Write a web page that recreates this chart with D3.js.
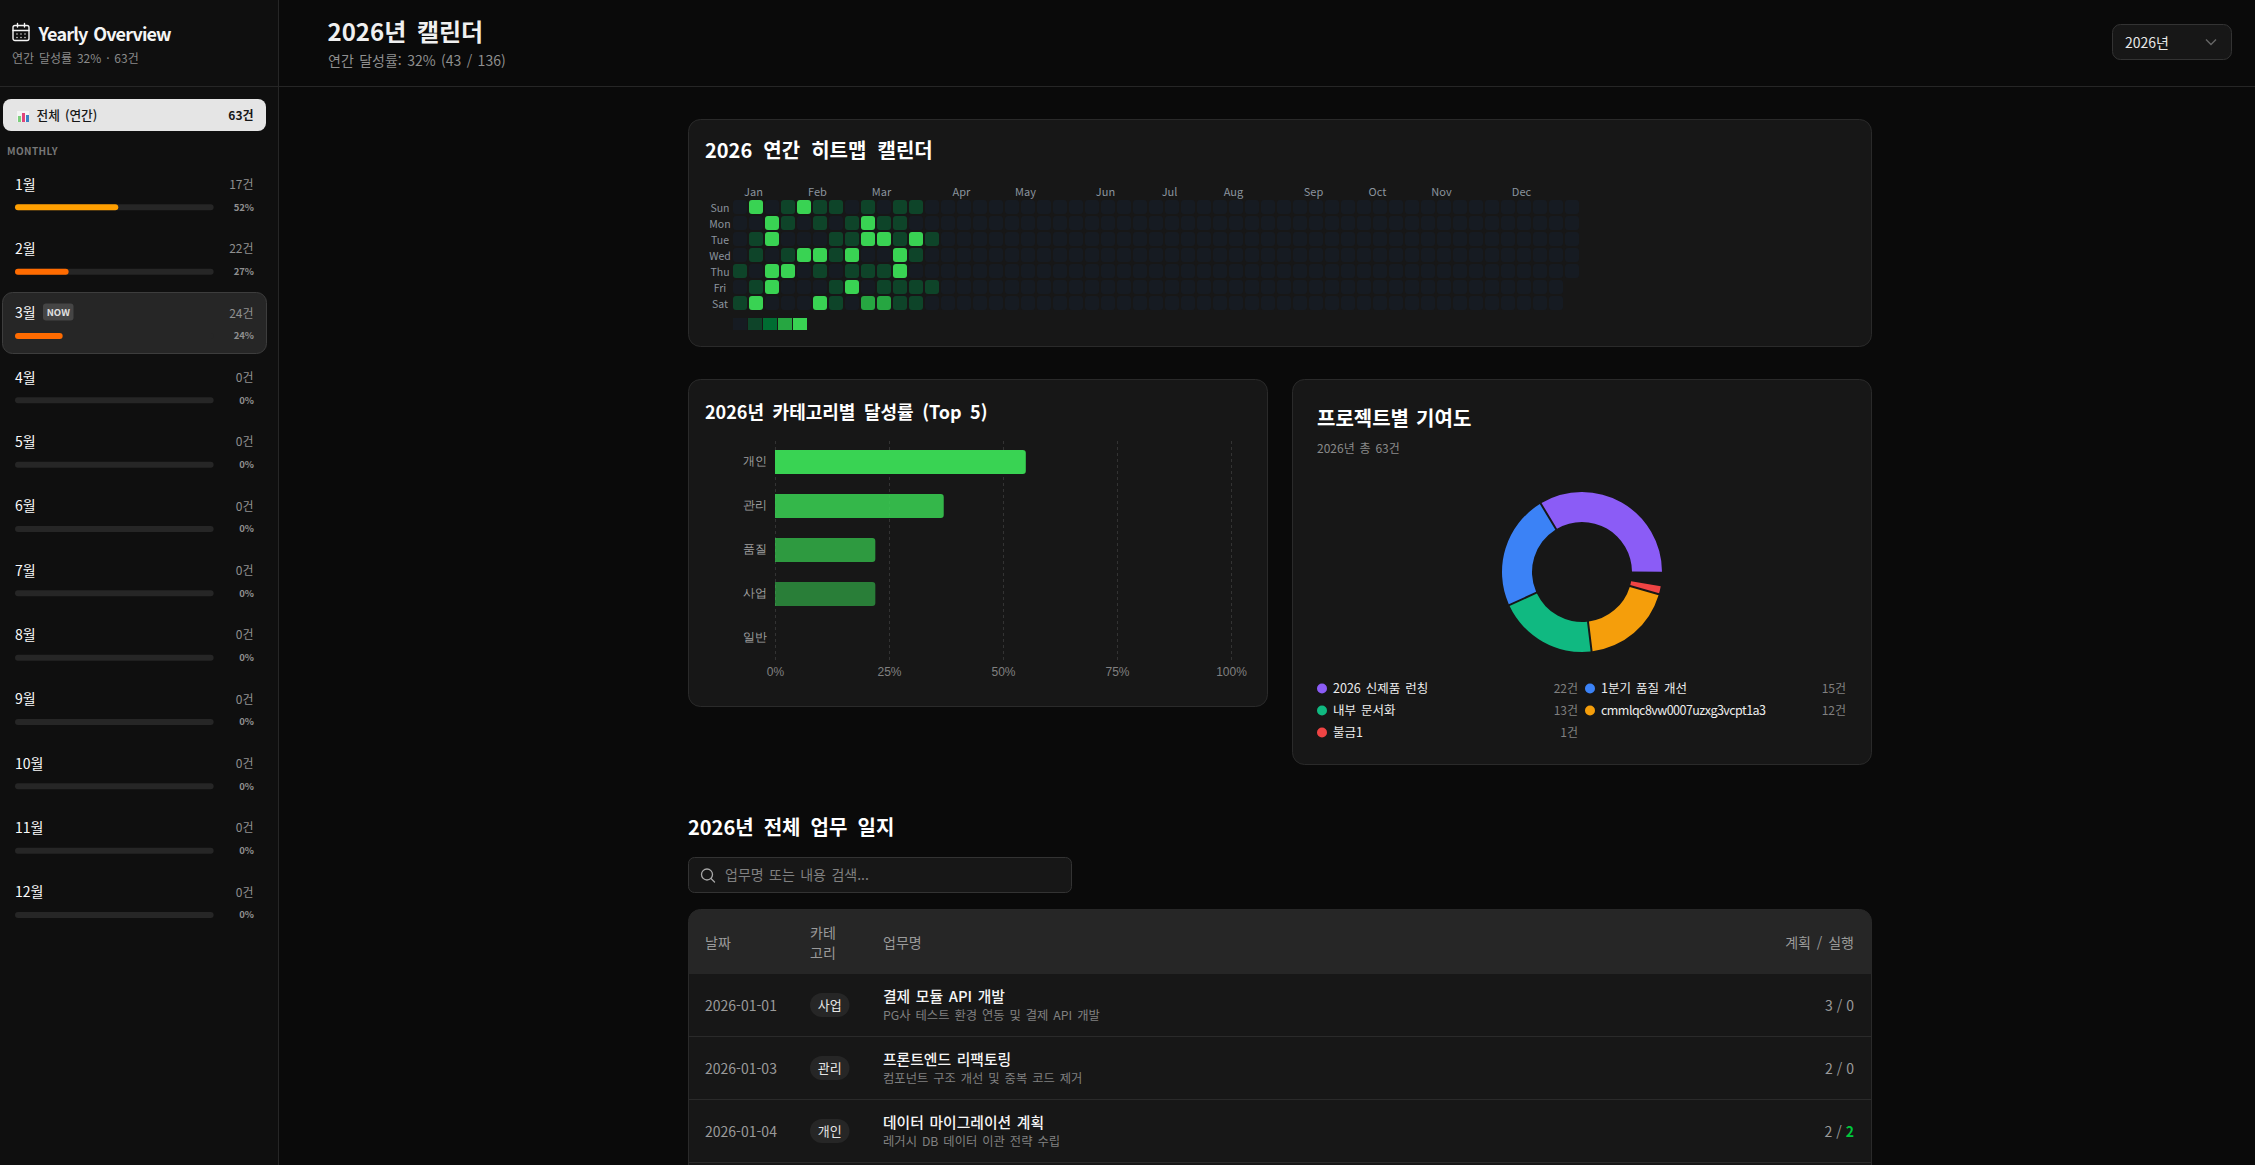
<!DOCTYPE html>
<html lang="ko">
<head>
<meta charset="utf-8">
<title>2026년 캘린더</title>
<script src="https://d3js.org/d3.v7.min.js"></script>
<style>
  html, body { margin: 0; background: #0a0a0a; overflow: hidden; }
  svg { display: block; font-family: "Noto Sans CJK KR", "Noto Sans", sans-serif; word-spacing: 1.5px; }
  text { dominant-baseline: central; }
</style>
</head>
<body>
<svg id="page" width="2255" height="1165"></svg>
<script>
// sidebar
const monthNames = ["1월","2월","3월","4월","5월","6월","7월","8월","9월","10월","11월","12월"];
const monthCounts = [17,22,24,0,0,0,0,0,0,0,0,0];
const monthRates = [52,27,24,0,0,0,0,0,0,0,0,0];
const currentMonth = 2;

// heatmap: one list per weekday, first 14 weeks are the only ones with data
const weekdays = ["Sun","Mon","Tue","Wed","Thu","Fri","Sat"];
const heatLevels = [
  [0,4,0,1,4,1,1,0,1,0,1,1,0,0],
  [0,0,4,1,0,1,0,1,4,1,1,0,0,0],
  [0,1,4,0,0,0,1,1,4,4,1,4,1,0],
  [0,1,0,1,4,4,1,4,0,0,4,1,0,0],
  [1,0,4,4,0,1,0,1,1,1,4,0,0,0],
  [0,1,4,0,0,0,1,4,0,1,1,1,1,0],
  [1,4,0,0,0,4,1,0,3,3,1,1,0,0]
];
const heatColors = ["#161b22","#0e4429","#006d32","#26a641","#39d353"];
const monthTicks = ["Jan","Feb","Mar","Apr","May","Jun","Jul","Aug","Sep","Oct","Nov","Dec"];
const monthTickWeeks = [1,5,9,14,18,23,27,31,36,40,44,49];
const weekCount = 53;

// category bars
const categories = ["개인","관리","품질","사업","일반"];
const categoryRates = [55,37,22,22,0];
const rateTicks = [0,25,50,75,100];

// project donut
const projects = ["2026 신제품 런칭","1분기 품질 개선","내부 문서화","cmmlqc8vw0007uzxg3vcpt1a3","불금1"];
const projectCounts = [22,15,13,12,1];
const projectColors = ["#8b5cf6","#3b82f6","#10b981","#f59e0b","#ef4444"];

// work log
const logDates = ["2026-01-01","2026-01-03","2026-01-04"];
const logCats = ["사업","관리","개인"];
const logTitles = ["결제 모듈 API 개발","프론트엔드 리팩토링","데이터 마이그레이션 계획"];
const logDescs = ["PG사 테스트 환경 연동 및 결제 API 개발","컴포넌트 구조 개선 및 중복 코드 제거","레거시 DB 데이터 이관 전략 수립"];
const logPlans = [3,2,2];
const logDones = [0,0,2];

const svg = d3.select("#page");

function label(parent, x, y, str, size, fill, weight, anchor) {
  return parent.append("text")
    .attr("x", x).attr("y", y - .8)
    .attr("font-size", size)
    .attr("fill", fill)
    .attr("font-weight", weight || 400)
    .attr("text-anchor", anchor || "start")
    .text(str);
}
function card(x, y, w, h) {
  svg.append("rect").attr("x", x + .5).attr("y", y + .5).attr("width", w).attr("height", h)
    .attr("rx", 12).attr("fill", "#171717").attr("stroke", "#2a2a2a");
}

// ---- shell ----
svg.append("rect").attr("width", 2255).attr("height", 1165).attr("fill", "#0a0a0a");
svg.append("rect").attr("width", 278).attr("height", 1165).attr("fill", "#0f0f0f");
svg.append("line").attr("x1", 278.5).attr("x2", 278.5).attr("y1", 0).attr("y2", 1165).attr("stroke", "#262626");
svg.append("line").attr("x1", 0).attr("x2", 2255).attr("y1", 86.5).attr("y2", 86.5).attr("stroke", "#262626");

// ---- sidebar head ----
const cal = svg.append("g").attr("transform", "translate(12,23)")
  .attr("fill", "none").attr("stroke", "#f5f5f5").attr("stroke-width", 1.4).attr("stroke-linecap", "round");
cal.append("rect").attr("x", 1).attr("y", 2.5).attr("width", 16).attr("height", 15).attr("rx", 2);
cal.append("path").attr("d", "M1 7.5H17M5.5 .5V4M12.5 .5V4M5 11H5.01M9 11H9.01M13 11H13.01M5 14.5H5.01M9 14.5H9.01M13 14.5H13.01");
label(svg, 38.5, 34, "Yearly Overview", 18, "#f5f5f5", 700).attr("letter-spacing", -.85);
label(svg, 12, 58.5, "연간 달성률 32% · 63건", 12, "#8a8a8a");

svg.append("rect").attr("x", 3).attr("y", 99).attr("width", 263).attr("height", 32).attr("rx", 8).attr("fill", "#e5e5e5");
const icon = svg.append("g").attr("transform", "translate(17,111)");
icon.append("rect").attr("width", 12).attr("height", 11).attr("fill", "#f4f4f4");
icon.append("rect").attr("x", 1).attr("y", 5).attr("width", 3).attr("height", 6).attr("fill", "#7ccf7c");
icon.append("rect").attr("x", 5).attr("y", 2).attr("width", 3).attr("height", 9).attr("fill", "#e0457b");
icon.append("rect").attr("x", 9).attr("y", 4).attr("width", 3).attr("height", 7).attr("fill", "#3b82c4");
label(svg, 36.5, 115, "전체 (연간)", 12.7, "#171717", 500);
label(svg, 253.5, 115, "63건", 12, "#171717", 700, "end");
label(svg, 7, 151.5, "MONTHLY", 10, "#777", 700).attr("letter-spacing", .4);

// ---- month rows ----
const monthY = d3.scaleLinear().domain([0, 11]).range([184.3, 892]);
const rateX = d3.scaleLinear().domain([0, 100]).range([15, 213.6]);
const barColor = r => r >= 50 ? "#ff9f00" : "#ff6b00";

svg.append("rect").attr("x", 2.5).attr("y", 292.5).attr("width", 264).attr("height", 61)
  .attr("rx", 10).attr("fill", "#262626").attr("stroke", "#3d3d3d");

const months = svg.selectAll("g.month").data(monthNames).enter().append("g").attr("class", "month");
months.each(function(name, i) {
  const g = d3.select(this), y = monthY(i);
  label(g, 15, y, name, 14, "#fafafa", 400);
  label(g, 253.5, y, monthCounts[i] + "건", 12, "#8f8f8f", 400, "end");
  g.append("rect").attr("x", rateX(0)).attr("y", y + 20).attr("width", rateX(100) - rateX(0)).attr("height", 6)
    .attr("rx", 3).attr("fill", "#262626");
  if (monthRates[i] > 0) {
    g.append("rect").attr("x", rateX(0)).attr("y", y + 20).attr("width", rateX(monthRates[i]) - rateX(0)).attr("height", 6)
      .attr("rx", 3).attr("fill", barColor(monthRates[i]));
  }
  label(g, 254, y + 23, monthRates[i] + "%", 9.5, "#8f8f8f", 700, "end");
  if (i === currentMonth) {
    g.append("rect").attr("x", 43).attr("y", y - 9.5).attr("width", 30.5).attr("height", 17).attr("rx", 3).attr("fill", "#454545");
    label(g, 58.3, y - .5, "NOW", 9.5, "#e0e0e0", 700, "middle");
  }
});

// ---- page head ----
label(svg, 327.5, 31, "2026년 캘린더", 24, "#f0f0f0", 700).attr("word-spacing", 4);
label(svg, 328, 61, "연간 달성률: 32% (43 / 136)", 14, "#8f8f8f");
svg.append("rect").attr("x", 2112.5).attr("y", 24.5).attr("width", 119).attr("height", 35).attr("rx", 8)
  .attr("fill", "#171717").attr("stroke", "#333");
label(svg, 2125, 43, "2026년", 14, "#e8e8e8");
svg.append("path").attr("d", "M2206 39.5l5 5 5-5").attr("fill", "none").attr("stroke", "#666").attr("stroke-width", 1.4);

// ---- heatmap ----
card(688, 119, 1183, 227);
label(svg, 705, 150.5, "2026 연간 히트맵 캘린더", 20, "#fff", 700).attr("word-spacing", 5.5);

const cellSize = 14;
const weekX = d3.scaleLinear().domain([0, weekCount]).range([733, 733 + 16 * weekCount]);
const dayY = d3.scaleBand().domain(weekdays).range([200, 200 + 16 * 7]);

const heatCells = [];
weekdays.forEach((day, d) => {
  d3.range(weekCount).forEach(w => {
    if (w === weekCount - 1 && d > 4) return;
    heatCells.push({ day: day, week: w, level: heatLevels[d][w] || 0 });
  });
});
svg.append("g").selectAll("rect").data(heatCells).enter().append("rect")
  .attr("x", d => weekX(d.week))
  .attr("y", d => dayY(d.day))
  .attr("width", cellSize).attr("height", cellSize).attr("rx", 3)
  .attr("fill", d => heatColors[d.level]);

svg.append("g").selectAll("text").data(monthTicks).enter().append("text")
  .attr("x", (d, i) => weekX(monthTickWeeks[i]) + cellSize / 2 - 2.5)
  .attr("y", 190.7).attr("text-anchor", "middle").attr("font-size", 11).attr("fill", "#8b949e")
  .text(d => d);
svg.append("g").selectAll("text").data(weekdays).enter().append("text")
  .attr("x", 720).attr("y", d => dayY(d) + cellSize / 2 + .3)
  .attr("text-anchor", "middle").attr("font-size", 10.5).attr("fill", "#8b949e")
  .text(d => d);
svg.append("g").selectAll("rect").data(heatColors).enter().append("rect")
  .attr("x", (d, i) => 733 + i * 15).attr("y", 318).attr("width", 14).attr("height", 12)
  .attr("fill", d => d);

// ---- category bars ----
card(688, 379, 579, 327);
label(svg, 705, 411.5, "2026년 카테고리별 달성률 (Top 5)", 18, "#fff", 700).attr("word-spacing", 3.5);

const catX = d3.scaleLinear().domain([0, 100]).range([775, 1231]);
const catY = d3.scaleBand().domain(categories).range([440, 660]);
const barH = 24, barR = 3;

const xAxis = svg.append("g").attr("transform", "translate(0,660)")
  .call(d3.axisBottom(catX).tickValues(rateTicks).tickFormat(d => d + "%").tickSize(-220).tickPadding(8));
xAxis.select(".domain").remove();
xAxis.selectAll("line").attr("stroke", "#333").attr("stroke-dasharray", "3 3");
xAxis.selectAll("text").attr("font-size", 12).attr("font-family", null).attr("fill", "#808080").attr("dy", ".35em");

const yAxis = svg.append("g").attr("transform", "translate(775,0)")
  .call(d3.axisLeft(catY).tickSize(0).tickPadding(8));
yAxis.select(".domain").remove();
yAxis.selectAll("text").attr("font-size", 12).attr("font-family", null).attr("fill", "#a0a0a0").attr("dy", -.8);

function barPath(cat, i) {
  const x0 = catX(0), x1 = catX(categoryRates[i]);
  const y0 = catY(cat) + (catY.bandwidth() - barH) / 2, y1 = y0 + barH;
  const p = d3.path();
  p.moveTo(x0, y0);
  p.lineTo(x1 - barR, y0);
  p.arcTo(x1, y0, x1, y0 + barR, barR);
  p.lineTo(x1, y1 - barR);
  p.arcTo(x1, y1, x1 - barR, y1, barR);
  p.lineTo(x0, y1);
  p.closePath();
  return p.toString();
}
svg.append("g").selectAll("path").data(categories.filter((c, i) => categoryRates[i] > 0)).enter().append("path")
  .attr("d", barPath)
  .attr("fill", "#39d353")
  .attr("fill-opacity", (d, i) => 1 - i * .15);

// ---- project donut ----
card(1292, 379, 579, 385);
label(svg, 1317, 418, "프로젝트별 기여도", 20, "#fff", 700);
label(svg, 1317, 448, "2026년 총 63건", 12, "#8a8a8a");

const padDeg = 1.2 * Math.PI / 180;
const pie = d3.pie().sort(null)
  .startAngle(Math.PI / 2 + padDeg / 2)
  .endAngle(Math.PI / 2 - 350.5 * Math.PI / 180)
  .padAngle(padDeg);
const arc = d3.arc().innerRadius(50).outerRadius(80);
svg.append("g").attr("transform", "translate(1582,572)")
  .selectAll("path").data(pie(projectCounts)).enter().append("path")
  .attr("d", arc)
  .attr("fill", (d, i) => projectColors[i]);

const legendX = [1322, 1590];
const legendEnd = [1578, 1846];
const legendY = [688.5, 710.5, 732.5];
const legend = svg.selectAll("g.legend").data(projects).enter().append("g").attr("class", "legend");
legend.each(function(name, i) {
  const g = d3.select(this), col = i % 2, y = legendY[Math.floor(i / 2)];
  g.append("circle").attr("cx", legendX[col]).attr("cy", y).attr("r", 5).attr("fill", projectColors[i]);
  const t = label(g, legendX[col] + 11, y, name, 12.5, "#ededed");
  if (/^[a-z0-9]+$/.test(name)) t.attr("letter-spacing", -.55);
  label(g, legendEnd[col], y, projectCounts[i] + "건", 12, "#808080", 400, "end");
});

// ---- work log ----
label(svg, 688, 827, "2026년 전체 업무 일지", 20, "#fff", 700).attr("word-spacing", 4.5);
svg.append("rect").attr("x", 688.5).attr("y", 857.5).attr("width", 383).attr("height", 35).attr("rx", 6)
  .attr("fill", "#171717").attr("stroke", "#333");
svg.append("circle").attr("cx", 707).attr("cy", 874.5).attr("r", 5.5).attr("fill", "none").attr("stroke", "#a8a8a8").attr("stroke-width", 1.3);
svg.append("path").attr("d", "M711 878.5l3.5 3.5").attr("stroke", "#a8a8a8").attr("stroke-width", 1.3).attr("stroke-linecap", "round");
label(svg, 725, 875, "업무명 또는 내용 검색...", 14, "#808080");

// table frame runs past the bottom of the window
svg.append("rect").attr("x", 688.5).attr("y", 909.5).attr("width", 1183).attr("height", 300).attr("rx", 12)
  .attr("fill", "#171717").attr("stroke", "#2a2a2a");
svg.append("path").attr("d", "M688.5 974V921.5a12 12 0 0 1 12-12H1859.5a12 12 0 0 1 12 12V974Z").attr("fill", "#262626");
label(svg, 705, 942.5, "날짜", 14, "#9a9a9a");
label(svg, 810, 932.5, "카테", 14, "#9a9a9a");
label(svg, 810, 952.5, "고리", 14, "#9a9a9a");
label(svg, 883, 942.5, "업무명", 14, "#9a9a9a");
label(svg, 1854, 942.5, "계획 / 실행", 14, "#9a9a9a", 400, "end").attr("word-spacing", 2);

const rowY = d3.scaleLinear().domain([0, 1]).range([974, 1037]);
const rows = svg.selectAll("g.row").data(logDates).enter().append("g").attr("class", "row");
rows.each(function(date, i) {
  const g = d3.select(this), top = rowY(i), mid = top + 32;
  g.append("line").attr("x1", 689).attr("x2", 1871).attr("y1", rowY(i + 1) - .5).attr("y2", rowY(i + 1) - .5).attr("stroke", "#2a2a2a");
  label(g, 705, mid, date, 14, "#9a9a9a");
  g.append("rect").attr("x", 810).attr("y", mid - 13).attr("width", 39.5).attr("height", 24).attr("rx", 12).attr("fill", "#262626");
  label(g, 829.8, mid - 1, logCats[i], 13, "#e5e5e5", 400, "middle");
  label(g, 883, mid - 9.5, logTitles[i], 14.8, "#f5f5f5", 500);
  label(g, 883, mid + 10, logDescs[i], 12.3, "#808080");
  const t = label(g, 1854, mid, "", 14, "#9a9a9a", 400, "end").attr("word-spacing", 0);
  t.append("tspan").text(logPlans[i] + " / ");
  t.append("tspan").text(logDones[i])
    .attr("fill", logDones[i] > 0 ? "#00c73c" : null)
    .attr("font-weight", logDones[i] > 0 ? 700 : null);
});
</script>
</body>
</html>
